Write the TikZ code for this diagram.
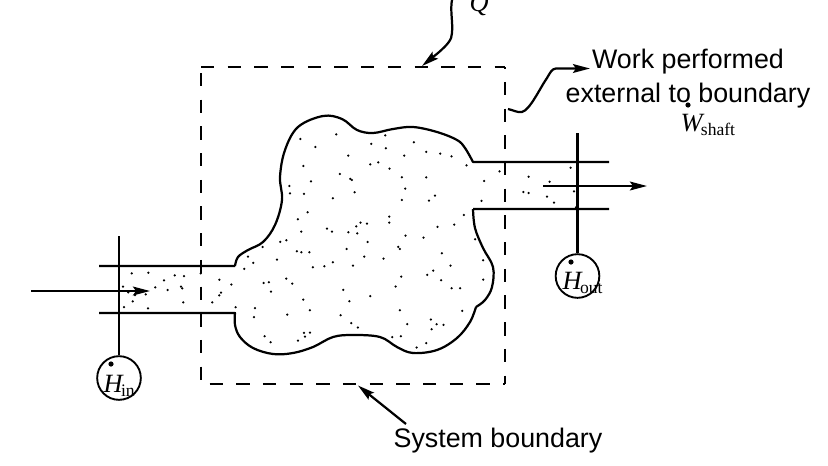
\documentclass[tikz,border=0pt]{standalone}
\usepackage{fontspec}
\usetikzlibrary{arrows.meta}
\setmainfont{Liberation Sans}
\newfontfamily\timesfont{Liberation Serif}
\newcommand{\symb}[2]{{\timesfont\fontsize{22.5}{24}\selectfont\itshape #1\kern-1.5pt\fontsize{15}{16}\selectfont\upshape\raisebox{-4pt}{#2}}}
\begin{document}
\begin{tikzpicture}[x=0.03cm,y=-0.03cm,>={Stealth[length=14.5pt,width=7.5pt,inset=2.5pt]},line join=round,every node/.style={font=\fontsize{22.9}{29}\selectfont,inner sep=0pt},
	wall/.style={line width=1.9pt},
	station/.style={draw,circle,line width=1.6pt,minimum size=1.31cm},
	boundary/.style={line width=2.1pt,dash pattern=on 11.39pt off 11.39pt}]
	\useasboundingbox (0,0) rectangle (828,465);
	\path
	(201,67) coordinate (A)
	(201,384) coordinate (B)
	(505,384) coordinate (C)
	(505,67) coordinate (D)
	(119,236) coordinate (inTop)
	(577.5,133) coordinate (outTop)
	(31,291) coordinate (inStart)
	(150,291) coordinate (inEnd)
	(543,186) coordinate (outStart)
	(647,186) coordinate (outEnd)
	(452,0) coordinate (heatStart)
	(422,66) coordinate (heatEnd)
	(508,109) coordinate (workStart)
	(590,68.5) coordinate (workEnd)
	(406,424) coordinate (sysStart)
	(358,385.5) coordinate (sysEnd);
	% control volume
	\draw[boundary] (A) -- (D);
	\draw[boundary,dash phase=10pt] (D) -- (C);
	\draw[boundary,dash phase=17.66pt] (A) -- (B);
	\draw[boundary,dash phase=15.5pt] (B) -- (C);
	\draw[wall] (99,266) -- (235,266)
	plot[smooth,tension=0.6] coordinates {(235,266) (238,257) (248,250) (263,242) (275,225) (282,200) (280,177) (285,150) (298,127) (323,116) (342,119) (357,130) (373,133) (393,129) (413,127) (437,132) (457,140) (465,148) (473,162)}
	-- (609,162);
	\draw[wall] (609,209) -- (473,209)
	plot[smooth,tension=0.6] coordinates {(473,209) (475,228) (483,248) (493,267) (492,287) (485,300) (476,307)}
	plot[smooth,tension=0.6] coordinates {(476,307) (470,322) (457,338) (437,350) (413,353) (397,347) (380,337) (353,335) (333,337) (313,347) (293,353) (273,354) (253,348) (240,337) (235,325) (235,313)}
	-- (99,313);
	% particles
	\begin{scope}[shift={(230,100)},x=0.01cm,y=-0.01cm]
		\foreach \px/\py in {211/117,319/103,466/106,256/141,424/132,468/145,552/127,355/167,523/167,589/156,631/161,665/169,220/198,421/193,445/187,479/206,710/196,809/214,330/222,361/237,366/240,243/244,516/232,589/232,763/243,178/258,526/266,180/280,222/282,374/277,615/287,309/295,516/300,597/302,755/303,233/337,204/358,478/350,478/368,702/345,392/368,411/371,379/379,291/386,306/395,214/395,355/397,382/400,623/381,673/374,527/407,581/413,736/418,413/426,151/426,169/421,98/441,505/441,510/447,350/447,201/454,214/457,238/457,636/460,54/470,403/470,461/476,141/479,760/481,70/489,309/487,369/497,283/499,249/502,662/497,43/507,610/512,592/525,514/530,169/536,634/541,760/539,101/549,117/547,187/551,4/554,497/560,665/565,691/565,123/575,340/570,421/589,220/599,358/604,17/622,75/625,240/631,510/631,697/633,172/644,332/646,72/652,603/659,364/670,620/673,641/675,532/673,605/688,384/683,222/699,240/698,225/710,104/709,487/712,513/709,204/722,122/727,589/730,560/743}
		\fill (\px,\py) circle (0.0375cm);
	\end{scope}
	\foreach \px/\py in {570.7/167.7,528.7/176.7,549.7/181.7,574/191.3,523.3/192,528.7/193,547/196.7,554/202.7,576/207.3,131.7/273.3,148.3/272.7,174.7/275.3,184/276,164/280.3,123/286.7,155.3/287.3,181/286.7,182.3/288.3,128.3/292.3,167.7/290,135/295,145.7/294.3,132.7/301.3,183.3/302.3,124/307,148/308.3,200.7/273.3,219.3/279.7,221/292.7,219.3/295.3,212.3/302.3}
	\fill (\px,\py) circle (0.0375cm);
	% stations
	\node[station] (Hin) at (119,378) {};
	\node[station] (Hout) at (577.5,276) {};
	\node[anchor=base west] (HinText) at (103.5,392) {\symb{H}{in}};
	\node[anchor=base west] (HoutText) at (562.5,289) {\symb{H}{out}};
	\fill (111,364) circle (2.6);
	\fill (571,262) circle (2.6);
	\draw[wall] (inTop) -- (Hin);
	\draw[wall] (outTop) -- (Hout);
	\draw[wall,->] (inStart) -- (inEnd);
	\draw[wall,->] (outStart) -- (outEnd);
	% heat
	\node[anchor=base west] (Q) at (469.5,11) {\symb{Q}{}};
	\draw[wall,->] (heatStart) .. controls (450,10) and (453,22) .. (452,33) .. controls (452,40) and (447,45) .. (438,53) -- (heatEnd);
	% work
	\node[align=center,anchor=base] (work) at (688,102) {Work performed\\external to boundary};
	\fill (688,105) circle (2.6);
	\node[anchor=base west] (W) at (680.5,131) {\symb{W}{shaft}};
	\draw[wall,->] (workStart) .. controls (513,110) and (518,113) .. (522,112) .. controls (530,110) and (540,88) .. (547,78) .. controls (550,73) and (552,68.5) .. (556,68.5) -- (workEnd);
	% label
	\node[anchor=base] (sys) at (498,447) {System boundary};
	\draw[wall,->] (sysStart) -- (sysEnd);
\end{tikzpicture}
\end{document}
